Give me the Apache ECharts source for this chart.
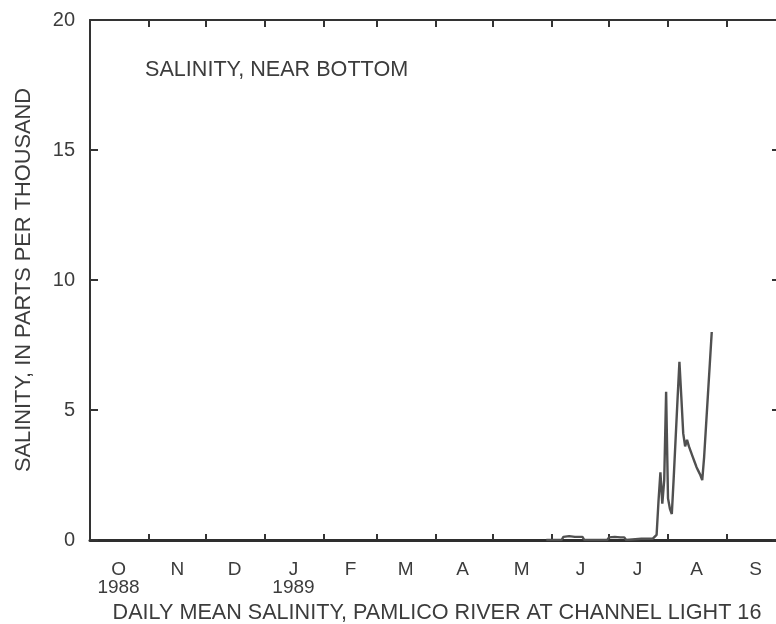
<!DOCTYPE html>
<html>
<head>
<meta charset="utf-8">
<script src="https://cdn.jsdelivr.net/npm/echarts@6/dist/echarts.min.js"></script>
<style>html,body{margin:0;padding:0;background:#fff;}#c{width:776px;height:624px;}</style>
</head>
<body>
<div id="c"></div>
<script>
// Days counted from 1 Oct 1988 (day 0)
const monthStartDays = [0, 31, 61, 92, 123, 151, 182, 212, 243, 273, 304, 335, 365];
const monthMidDays = [15, 46, 76, 107, 137, 166, 196, 227, 258, 288, 319, 350];
const monthLabels = ['O\n1988', 'N', 'D', 'J\n1989', 'F', 'M', 'A', 'M', 'J', 'J', 'A', 'S'];
const yTicks = [0, 5, 10, 15, 20];

// Daily mean salinity readings (ppt)
const obsDays = [
  240, 248, 249, 252, 255, 259, 260, 272, 273, 276, 279, 281, 282, 290, 296,
  297, 298, 299, 300, 301, 302, 303, 304, 305, 306, 307, 308, 309, 310, 311,
  312, 313, 314, 315, 316, 317, 318, 319, 320, 321, 322, 323, 324, 325, 326, 327
];
const obsValues = [
  0, 0, 0.12, 0.15, 0.12, 0.12, 0, 0, 0.1, 0.12, 0.1, 0.1, 0, 0.05, 0.05,
  0.05, 0.2, 1.5, 2.6, 1.4, 2.3, 5.7, 1.6, 1.2, 1.0, 2.4, 3.9, 5.4, 6.85, 5.5,
  4.1, 3.6, 3.85, 3.6, 3.4, 3.2, 3.0, 2.8, 2.65, 2.5, 2.3, 3.2, 4.4, 5.6, 6.8, 8.0
];

const FONT = 'Liberation Sans, Arial, sans-serif';
const INK = '#3c3c3c';
const chart = echarts.init(document.getElementById('c'));
const seriesData = obsDays.map((d, i) => [d, obsValues[i]]);

chart.setOption({
  backgroundColor: '#ffffff',
  animation: false,
  textStyle: { fontFamily: FONT, color: INK },
  title: {
    text: 'SALINITY, NEAR BOTTOM',
    left: 145, top: 59, padding: 0,
    textStyle: { fontFamily: FONT, fontSize: 21.6, fontWeight: 'normal', color: INK }
  },
  grid: { left: 90, top: 20, right: -8, bottom: 84, containLabel: false, outerBoundsMode: 'none' },
  xAxis: [
    {
      type: 'value', position: 'bottom', min: 0, max: 365,
      name: 'DAILY MEAN SALINITY, PAMLICO RIVER AT CHANNEL LIGHT 16',
      nameLocation: 'middle', nameGap: 47,
      nameTextStyle: { fontFamily: FONT, fontSize: 21.6, color: INK },
      axisLine: { show: true, onZero: false, lineStyle: { color: '#2e2e2e', width: 3 } },
      axisTick: { show: true, inside: true, length: 6, customValues: monthStartDays, lineStyle: { color: '#333', width: 2 } },
      axisLabel: {
        show: true, customValues: monthMidDays, margin: 21, lineHeight: 18,
        fontFamily: FONT, fontSize: 19, color: INK,
        formatter: function (v) { const i = monthMidDays.indexOf(Math.round(v)); return i >= 0 ? monthLabels[i] : ''; }
      },
      splitLine: { show: false }
    },
    {
      type: 'value', position: 'top', min: 0, max: 365,
      axisLine: { show: true, onZero: false, lineStyle: { color: '#333', width: 2 } },
      axisTick: { show: true, inside: true, length: 7, customValues: monthStartDays, lineStyle: { color: '#333', width: 2 } },
      axisLabel: { show: false },
      splitLine: { show: false }
    }
  ],
  yAxis: [
    {
      type: 'value', position: 'left', min: 0, max: 20, interval: 5,
      name: 'SALINITY, IN PARTS PER THOUSAND',
      nameLocation: 'middle', nameGap: 55, nameRotate: 90,
      nameTextStyle: { fontFamily: FONT, fontSize: 21.8, color: INK },
      axisLine: { show: true, onZero: false, lineStyle: { color: '#333', width: 2 } },
      axisTick: { show: true, inside: true, length: 8, lineStyle: { color: '#333', width: 2 } },
      axisLabel: { show: true, margin: 15, fontFamily: FONT, fontSize: 20, color: INK },
      splitLine: { show: false }
    },
    {
      type: 'value', position: 'right', min: 0, max: 20, interval: 5,
      axisLine: { show: true, onZero: false, lineStyle: { color: '#333', width: 2 } },
      axisTick: { show: true, inside: true, length: 12, lineStyle: { color: '#333', width: 2 } },
      axisLabel: { show: false },
      splitLine: { show: false }
    }
  ],
  series: [{
    type: 'line', xAxisIndex: 0, yAxisIndex: 0,
    data: seriesData, showSymbol: false, symbol: 'none',
    lineStyle: { color: '#505050', width: 2.4 }
  }]
});
</script>
</body>
</html>
